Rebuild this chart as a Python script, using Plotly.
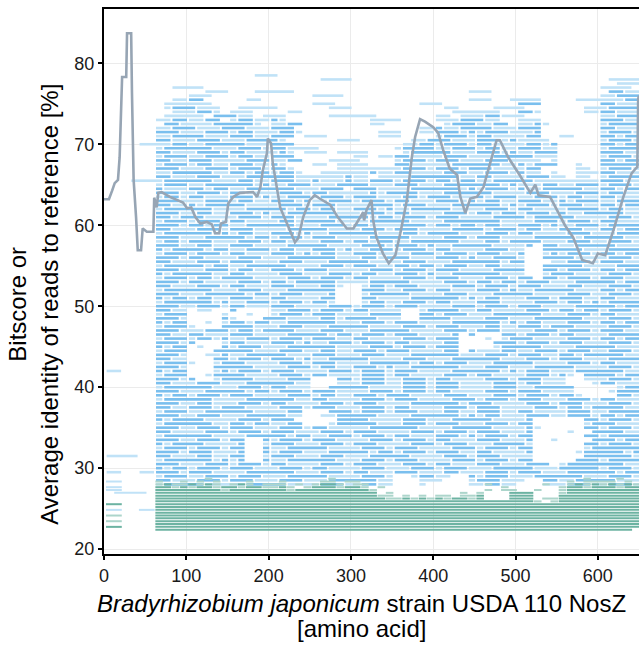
import plotly.graph_objects as go

# ---------------- data ----------------
# Average identity line (x = amino acid position, y = %)
LINE_X = [0, 6, 10, 13, 17, 19, 22, 27, 28, 33, 34, 36, 39, 41, 45, 47, 52, 60, 61, 64, 66, 70, 80, 89, 96, 101,
          106, 111, 117, 125, 131, 135, 140, 142, 148, 151, 157, 165, 181, 186, 190, 193, 198, 199, 203, 205, 210,
          214, 224, 232, 236, 242, 250, 256, 262, 275, 284, 295, 303, 309, 315, 316, 319, 325, 327, 331, 339, 346,
          354, 360, 368, 374, 378, 384, 390, 400, 406, 412, 420, 429, 433, 439, 445, 453, 461, 469, 477, 481, 491,
          505, 518, 524, 528, 542, 550, 560, 570, 581, 594, 600, 609, 619, 631, 641, 646, 648, 649, 650]
LINE_Y = [63.2, 63.2, 64.3, 65.2, 65.6, 68.4, 78.3, 78.3, 83.7, 83.7, 76.3, 65.6, 60.9, 56.9, 56.9, 59.6, 59.2, 59.2,
          63.4, 62.2, 64.0, 64.1, 63.5, 63.1, 62.8, 62.1, 62.2, 61.0, 60.2, 60.4, 60.1, 59.0, 59.0, 60.2, 60.4, 62.7,
          63.5, 64.0, 64.1, 63.5, 64.7, 66.8, 68.9, 70.7, 70.1, 67.7, 64.7, 62.2, 59.8, 57.9, 58.4, 61.0, 63.1, 63.7,
          63.3, 62.5, 61.0, 59.6, 59.6, 60.6, 61.6, 60.6, 61.9, 63.1, 60.6, 58.5, 56.5, 55.3, 56.3, 59.0, 63.1, 68.4,
          70.9, 73.1, 72.8, 72.1, 71.4, 69.3, 67.0, 66.2, 63.5, 61.5, 63.3, 63.5, 64.7, 67.6, 70.5, 70.5, 68.4, 66.2,
          64.0, 65.0, 63.7, 63.5, 61.9, 60.0, 58.5, 55.7, 55.3, 56.5, 56.3, 59.4, 63.5, 66.4, 67.0, 67.2, 75.6, 76.0]

# Read map: each character = one 10-aa bin starting at aa 2; groups of 5 bins split by "|"
# ' ' none, '-' light blue read, '=' darker blue read, 'g' light teal read, 'G' teal read
BLUE_ROWS = [
    (78.5, "     |     |     |   --|-    |     |     |     |     |     |     |     |     "),
    (78.0, "     |     |     |     |     | ----|     |     |     |     |     |     | ----"),
    (77.5, "     |     |     |     |     |     |     |     |     |     |     |     |  ---"),
    (77.0, "     |   --|--   |     |     |     |     |     |     |     |     |     |---- "),
    (76.5, "     |     |  ---|   --|---  |     |     |     |    -|--   |     |     | ==--"),
    (76.0, "     |     |---  |     |     |---- |     |     |     |     |     |     |--==="),
    (75.5, "     |   --|==   |  -- |     |     |     |     |    -|--  -|---  |  ---|---=="),
    (75.0, "     |  ---|---  |     |     |---  |     |   --|-    |     |===  |     |==---"),
    (74.5, "     |  -==|=--- | ----|-    |  ---|     |     | --  |  ---|-    |   --|-===="),
    (74.0, "     |   --|-==- |---  |  -- |     |     |     |  ---|---  |==-  |   --|==---"),
    (73.5, "     |  ---|-- ==|=-- -|--   |  ---|---  |     |-- --|-==--|-    |     |--==="),
    (73.0, "     | --==|--== |-==--|=-   |     |  ---|-    |---==|=--  |---  |     |===--"),
    (72.5, "     |  ==-|---==|===- |--== |     |  -- |     | -===|--== |--=- |     |-===="),
    (72.0, "     | --==|=---=|==---|===  |     |     |   --|=--==|==---|===  |     |==---"),
    (71.5, "     | ===-|--===|-==--|-==- |     |   --|-  --|===-=|-===-|--=  |     |-===-"),
    (71.0, "     | --==|==---|===--|=== -|--   |   --|-    |-===-|==---|-==  |--   |==-=="),
    (70.5, "     | ==--|-===-|--===|=-   |   --|-    |  --=|==---|===-=|---- |     |-===-"),
    (70.0, "    -|---==|--===|==---|===  |     |     | --==|-===-|==---|-==-=|     |==-=="),
    (69.5, "     | -===|===--|-===-|==---|-    |     |-====|--===|-==--|===--|     |-===="),
    (69.0, "     | ==--|-===-|==---|-=- -|-- --|--   | -===|==---|===-=|--===|     |===--"),
    (68.5, "     | -===|--===|-==--|===  |     |-- --|==---|-===-|--===|==---|     |-===-"),
    (68.0, "     | ==--|===--|--===|--== |  ---|-    |-===-|===--|-===-|--- -|     |==-=="),
    (67.5, "     | -===|-==--|===--|=-   |-- --|--   |==---|--===|===--|=-===|  -  |====="),
    (67.0, "     | ===-|--===|-===-|==-  |   --|-----|-===-|===-=|==---|-==  |  -- |-===-"),
    (66.5, "     | --==|===--|==-==|-==- | ----|--=--|==---|-===-|-===-|=-- -|  ---|==---"),
    (66.0, "     | ==--|-===-|--===|===--|----=|-- --|--===|===--|==---|-===-|- -- |-===="),
    (65.5, "   --|--===|===--|-==--|===--|=---=|--===|-===-|==-==|--===|==---|-----|===--"),
    (65.0, "     | -===|--===|===-=|--===|---==|==---|===--|-====|===-=|---==|--===|-===-"),
    (64.5, "     | =---|==-==|--===|===--|-=== |===--|--===|===-=|-===-|=--==|===--|==-=="),
    (64.0, "     | ===-|-===-|==---|-===-|==---|--=-=|===--|-====|==---|-===-|--===|-==--"),
    (63.5, "     | -==-|==---|===-=|--===|-===-|===--|-==-=|==---|=-===|--===|-==--|==---"),
    (63.0, "     | ===-|--===|-==--|===-=|--===|-===-|==---|===-=|-==--|===--|=-===|--==="),
    (62.5, "     | ==--|=-===|==---|-===-|===--|--===|-===-|--===|===-=|-===-|===--|==-=="),
    (62.0, "     | -===|===--|--===|==-==|-==--|===-=|--===|==---|-===-|==---|-====|-==--"),
    (61.5, "     | ===-|-==--|===-=|--===|===--|-===-|==---|-===-|==-==|-===-|=--==|===--"),
    (61.0, "     | ==-=|==---|-===-|===--|--===|==-==|-===-|===--|--===|=-===|==---|-===-"),
    (60.5, "     | -===|-===-|==---|-==-=|===--|--===|==---|-====|===--|--===|-===-|==---"),
    (60.0, "     | ===-|==-==|--===|===--|-===-|==---|-===-|==-==|-==--|===-=|--===|-===="),
    (59.5, "     | ==--|-===-|===--|--===|==---|-===-|===--|--===|=-===|-==--|===--|==-=="),
    (59.0, "     | -===|===-=|-==--|===-=|--===|===--|-==-=|===--|-===-|==---|-===-|--==="),
    (58.5, "     | ===-|--===|==-==|-===-|===--|--===|==---|-===-|===--|--===|==-==|===--"),
    (58.0, "     | -==-|===--|-===-|==---|-===-|==-==|--===|===--|-==-=|===--|-===-|-===-"),
    (57.5, "     | ===-|-==--|===--|--===|==---|-===-|===-=|--===|==---|-= ==|--===|==---"),
    (57.0, "     | =-==|==-==|--===|-==--|===-=|--===|-===-|==---|-===-|-  ==|===--|-===="),
    (56.5, "     | -===|-===-|==---|===-=|-==--|===--|--===|-===-|===--|=  -=|-===-|==-=="),
    (56.0, "     | ===-|==---|-===-|--===|===--|-==-=|==---|===-=|--===|-  ==|==---|-===-"),
    (55.5, "     | ==--|-===-|===--|-===-|--===|==---|-===-|--===|===-=|=   -|-===-|===--"),
    (55.0, "     | -===|==-==|--===|==---|-===-|===--|==-==|-===-|-==--|-  ==|===--|--==="),
    (54.5, "     | ===-|--===|-==--|===-=|==---|--===|-===-|===--|--===|=  ==|-===-|==-=="),
    (54.0, "     | =-==|===--|==---|-===-|--===|-==--|===-=|--===|===--|-  -=|==---|-===-"),
    (53.5, "     | -===|-==-=|===--|--===|-===-|==---|-===-|===--|-===-|== ==|-===-|===--"),
    (53.0, "     | ===-|==---|-===-|==-==|===--|--===|==---|-===-|==-==|-===-|--===|==-=="),
    (52.5, "     | ==--|-===-|==---|===--|-==- | -==-|===--|--===|-===-|===--|-==--|-===-"),
    (52.0, "     | -===|===--|-===-|--===|===  | ===-|-===-|==---|===-=|--===|==---|==-=="),
    (51.5, "     | ===-|--===|==-==|-===-|--=  | -===|==---|-===-|--===|==---|-===-|-===-"),
    (51.0, "     | =-==|-==--|===--|==---|-==  | ==--|--===|===-=|-==--|-===-|===--|==---"),
    (50.5, "     | -===|===-=|--===|-===-|==-  | -==-|-===-|==---|===--|--===|-==-=|-===="),
    (50.0, "     | ===-|-===-|==---|===--|--===|-===-|===--|--===|-===-|===--|--===|==-=="),
    (49.5, "     | ==--| --  |=    |--===|-===-|==---|-  -=|===--|==---|-===-|==-==|-===-"),
    (49.0, "     | -===|    -|  -  |-===-|===--|--===|=  ==|-===-|--===|===--|-===-|==---"),
    (48.5, "     | ===-|    =|-   =|==---|-==-=|===--|-  ==|==---|-===-|--===|===--|-===-"),
    (48.0, "     | =-==|  - -|==-==|--===|===--|-===-|===--|--===|===-=|-==--|-===-|==-=="),
    (47.5, "     | -===|-   =|===--|-===-|--===|==---|-===-|===--|-==--|===-=|==---|-===-"),
    (47.0, "     | ===-|--===|-==-=|===--|-===-|--===|==---|-===-|===--|--===|-===-|===--"),
    (46.5, "     | ==--|==---|===--|--===|==-==|-===-|===--|--= =|   ==|-===-|==---|-===="),
    (46.0, "     | -===|-==-=|--===|-===-|===--|==---|-===-|===  | - -=|==---|-===-|==-=="),
    (45.5, "     | ===-|=   -|==---|===-=|--===|-===-|==---|-==  |  ===|-===-|===--|-===-"),
    (45.0, "     | =-==| -  =|-===-|--===|===--|--===|-===-|===  |  -==|===--|--===|==---"),
    (44.5, "     | -===|   ==|===--|-===-|-==--|===-=|==---|-== =|---==|--===|-===-|-===-"),
    (44.0, "     | ===-|  --=|--===|==---|===--|-===-|--===|===--|-===-|===--|==-==|===--"),
    (43.5, "     | ==--|   ==|-===-|===-=|--===|==---|-===-|--===|===--|-===-|===--|-===="),
    (43.0, "     | -===|-  -=|==---|-===-|===--|--===|==-==|-===-|--===|==---|-===-|==---"),
    (42.5, "     | ===-|   ==|===--|--===|-==--|===-=|--===|===--|-===-|--===|==---|-===-"),
    (42.0, "--   | =-==|   -=|-===-|===--|--===|-===-|===--|--===|===-=|-===-|--===|===--"),
    (41.5, "     | -===|  -==|==---|-===-|==---|-===-|==---|-===-|==---|-===-|=- ==|==-=="),
    (41.0, "     | ===-|=  -=|===--|--===|   ==|-===-|-===-|==---|-===-|===--|-  --|-===-"),
    (40.5, "     | ==--|-===-|--===|===--|   --|-===-|-===-|===--|--===|-==--|-   -|==---"),
    (40.0, "     | -===|===--|-===-|==---|  ===|==---|-===-|===--|--===|--===|==   |  -=="),
    (39.5, "     | ===-|--===|==-==|-===-|===--|--===|-===-|==---|-===-|===--|--   | -==="),
    (39.0, "     | =-==|-===-|===--|--===|-==--|===-=|==---|-===-|--===|-===-|==-  |  ==-"),
    (38.5, "     | -===|===--|--===|===--|==---|-===-|===--|--===|-===-|===--|-===-|==---"),
    (38.0, "     | ===-|-==--|-===-|==---|-===-|===--|--===|===-=|==---|-===-|===--|-===-"),
    (37.5, "     | ==--|===-=|==---|-===-|===--|-===-|==---|-===-|===--|--===|-==-=|===--"),
    (37.0, "     | -===|--===|===--|--== |  ===|-===-|===--|-==--|===--|==---|-===-|-===="),
    (36.5, "     | ===-|-===-|--===|==-- | --==|===--|--===|===-=|-==--|-===-|-===-|==-=="),
    (36.0, "     | =-==|==---|-===-|===  |   ==|==---|-===-|--===|==---|-=   |   ==|-===-"),
    (35.5, "     | -===|===--|==-==|--== |  -==|===--|-===-|===--|-===-|==   |   -=|==---"),
    (35.0, "     | ===-|-===-|===--|-===-|==---|--===|===--|--===|==---|-=-  |   ==|-===-"),
    (34.5, "     | ==--|--===|-===-|===--|-===-|===--|--===|-===-|===--|-=   | -  =|===--"),
    (34.0, "     | -===|===--|--===|==-==|--===|-===-|==---|===-=|-===-|==   |   ==|-===="),
    (33.5, "     | ===-|-===-|==  =|-===-|===--|--===|-===-|==---|===--|-=  -|    =|==-=="),
    (33.0, "     | =-==|==---|-=  -|===--|-===-|===--|--===|-===-|--===|=-   |   ==|-===-"),
    (32.5, "     | -===|-===-|==  =|--===|==---|-===-|===--|--===|-===-|==   |   -=|====="),
    (32.0, "     | ===-|===--|-=  =|-===-|--===|==-==|-===-|===--|==---|-=   |  -==|===-="),
    (31.5, "---- | ==--|-==--|==  -|===--|-===-|--===|==---|-===-|===--|--   |   ==|====-"),
    (31.0, "     | -===|===-=|-=  =|--===|===--|-===-|===--|--===|-===-|==   |  ===|-===="),
    (30.5, "     | ===-|--===|-===-|==---|-===-|===--|-===-|==---|===--|-=== |-====|===--"),
    (30.0, "     | =-==|-===-|===--|-===-|==---|-===-|--===|-===-|--===|==---|=====|-===-"),
    (29.5, "--  -|-===-|===--|--===|===--|-===-|==---|===--|-==--|-===-|===--|-====|==-=="),
    (29.0, "     | -===|--===|-===-|--===|==---|-===-|  -==|--  =|-===-|--===|===--|-===-"),
    (28.5, "     | ==--|-===-|===--|-===-|--===|===--|   --|-   -|===--|-  ==|--===|==---"),
    (28.0, "     | -===|==---|--===|==---|-===-|-==--|   - |    -|-==--|   --|-===-|-===-"),
]

GREEN_ROWS = [
    (28.7,  "     |     |  g  |     |     |  g  |     |     |     |     |     |   g |  g  "),
    (28.35, "--   | g  g| g g |  g  | g   | gg g|g    |     |     |     |     | g gg|gg g "),
    (28.0,  "     | gGgg|GgGg |gGg g|gg g |gGGg |gg   |     |     | g   |   g | gGgG|gGgGg"),
    (27.65, "--   | GGgG|gGGgG|GgGGg|gGg g|GGGgG|Gg g |     |     |   g |     |gGGgG|GGgGG"),
    (27.3,  "--   | GGGG|GGGGg|GGGGG|GGgGG|GGGGG|GGg  |     |     | g gg|  g  |gGGGG|GGGGG"),
    (26.95, " ----| GGGG|GGGGG|GGGGG|GGGGG|GGGGG|GGG g|     |   g |g   G|GG   |gGGGG|GGGGG"),
    (26.6,  "     | GGGG|GGGGG|GGGGG|GGGGG|GGGGG|GGGgg| g g |gg gg|G   G|GG   |GGGGG|GGGGG"),
    (26.25, "     | GGGG|GGGGG|GGGGG|GGGGG|GGGGG|GGGGg|gGgGg|GgGGg|G   G|GG gg|GGGGG|GGGGG"),
    (25.9,  "     | GGGG|GGGGG|GGGGG|GGGGG|GGGGG|GGGGG|GGGGG|GGGGG|GGGGG|GGg g|GGGGG|GGGGG"),
    (25.55, "GG   | GGGG|GGGGG|GGGGG|GGGGG|GGGGG|GGGGG|GGGGG|GGGGG|GGGGG|GGGGG|GGGGG|GGGGG"),
    (25.2,  "     | GGGG|GGGGG|GGGGG|GGGGG|GGGGG|GGGGG|GGGGG|GGGGG|GGGGG|GGGGG|GGGGG|GGGGG"),
    (24.85, "--  -|-GGGG|GGGGG|GGGGG|GGGGG|GGGGG|GGGGG|GGGGG|GGGGG|GGGGG|GGGGG|GGGGG|GGGGG"),
    (24.5,  "     | GGGG|GGGGG|GGGGG|GGGGG|GGGGG|GGGGG|GGGGG|GGGGG|GGGGG|GGGGG|GGGGG|GGGGG"),
    (24.15, "gg   | GGGG|GGGGG|GGGGG|GGGGG|GGGGG|GGGGG|GGGGG|GGGGG|GGGGG|GGGGG|GGGGG|GGGGG"),
    (23.8,  "     | GGGG|GGGGG|GGGGG|GGGGG|GGGGG|GGGGG|GGGGG|GGGGG|GGGGG|GGGGG|GGGGG|GGGGG"),
    (23.45, "gg   | GGGG|GGGGG|GGGGG|GGGGG|GGGGG|GGGGG|GGGGG|GGGGG|GGGGG|GGGGG|GGGGG|GGGGG"),
    (23.1,  "     | GGGG|GGGGG|GGGGG|GGGGG|GGGGG|GGGGG|GGGGG|GGGGG|GGGGG|GGGGG|GGGGG|GGGGG"),
    (22.75, "GG   | GGGG|GGGGG|GGGGG|GGGGG|GGGGG|GGGGG|GGGGG|GGGGG|GGGGG|GGGGG|GGGGG|GGGGG"),
    (22.4,  "     | GGGG|GGGGG|GGGGG|GGGGG|GGGGG|GGGGG|GGGGG|GGGGG|GGGGG|GGGGG|GGGGG|GGGG "),
]

X_TICKS = [0, 100, 200, 300, 400, 500, 600]
Y_TICKS = [20, 30, 40, 50, 60, 70, 80]
X_TITLE = "<i>Bradyrhizobium japonicum</i> strain USDA 110 NosZ"
X_TITLE2 = "[amino acid]"
Y_TITLE1 = "Bitscore or"
Y_TITLE2 = "Average identity of reads to reference [%]"

# ---------------- styling ----------------
BIN_START = 2
BIN_W = 10
COLORS = {'-': '#c0e2f7', '=': '#7abfee', 'g': '#acd5cb', 'G': '#6cb3a2'}


def build_segments(rows, gap):
    out = {}
    for y, pat in rows:
        s = ''.join(g.ljust(5)[:5] for g in pat.split('|'))
        i = 0
        while i < len(s):
            c = s[i]
            if c == ' ':
                i += 1
                continue
            j = i
            while j + 1 < len(s) and s[j + 1] == c:
                j += 1
            x0 = BIN_START + BIN_W * i + gap
            x1 = BIN_START + BIN_W * (j + 1) - gap
            xs, ys = out.setdefault(c, ([], []))
            xs += [x0, x1, None]
            ys += [y, y, None]
            i = j + 1
    return out


fig = go.Figure()

blue = build_segments(BLUE_ROWS, 1.2)
for c in ['-', '=']:
    if c in blue:
        xs, ys = blue[c]
        fig.add_trace(go.Scatter(x=xs, y=ys, mode='lines', line=dict(color=COLORS[c], width=2.6),
                                 hoverinfo='skip', showlegend=False))

green = build_segments(GREEN_ROWS, 0.4)
for c in ['-', 'g', 'G']:
    if c in green:
        xs, ys = green[c]
        fig.add_trace(go.Scatter(x=xs, y=ys, mode='lines', line=dict(color=COLORS[c], width=2.0),
                                 hoverinfo='skip', showlegend=False))

fig.add_trace(go.Scatter(x=LINE_X, y=LINE_Y, mode='lines', line=dict(color='#97a5b4', width=2.6),
                         hoverinfo='skip', showlegend=False))

axis_common = dict(ticks='outside', ticklen=4, tickwidth=1.5, tickcolor='black',
                   showline=True, linecolor='black', linewidth=2,
                   showgrid=True, gridcolor='#ebebeb', gridwidth=1, zeroline=False,
                   tickfont=dict(size=18, color='#1a1a1a'))

fig.update_layout(
    width=639, height=645,
    margin=dict(l=104, r=0, t=9, b=91),
    plot_bgcolor='white', paper_bgcolor='white',
    showlegend=False,
    font=dict(family='Liberation Sans, Arial, Helvetica, sans-serif', color='#1a1a1a'),
    xaxis=dict(range=[0, 650], tickvals=X_TICKS, mirror=True, **axis_common),
    yaxis=dict(range=[19.4, 86.7], tickvals=Y_TICKS, **axis_common),
    annotations=[
        dict(text=X_TITLE, xref='paper', yref='paper', x=0.482, y=-0.09, xanchor='center', yanchor='middle',
             showarrow=False, font=dict(size=24, color='black')),
        dict(text=X_TITLE2, xref='paper', yref='paper', x=0.482, y=-0.136, xanchor='center', yanchor='middle',
             showarrow=False, font=dict(size=24, color='black')),
        dict(text=Y_TITLE1, xref='paper', yref='paper', x=-0.161, y=0.459, xanchor='center', yanchor='middle',
             textangle=-90, showarrow=False, font=dict(size=24, color='black')),
        dict(text=Y_TITLE2, xref='paper', yref='paper', x=-0.101, y=0.459, xanchor='center', yanchor='middle',
             textangle=-90, showarrow=False, font=dict(size=24, color='black')),
    ],
)

fig.write_html("out.html", config={'displayModeBar': False},
               post_script="document.body.style.margin='0px';")
